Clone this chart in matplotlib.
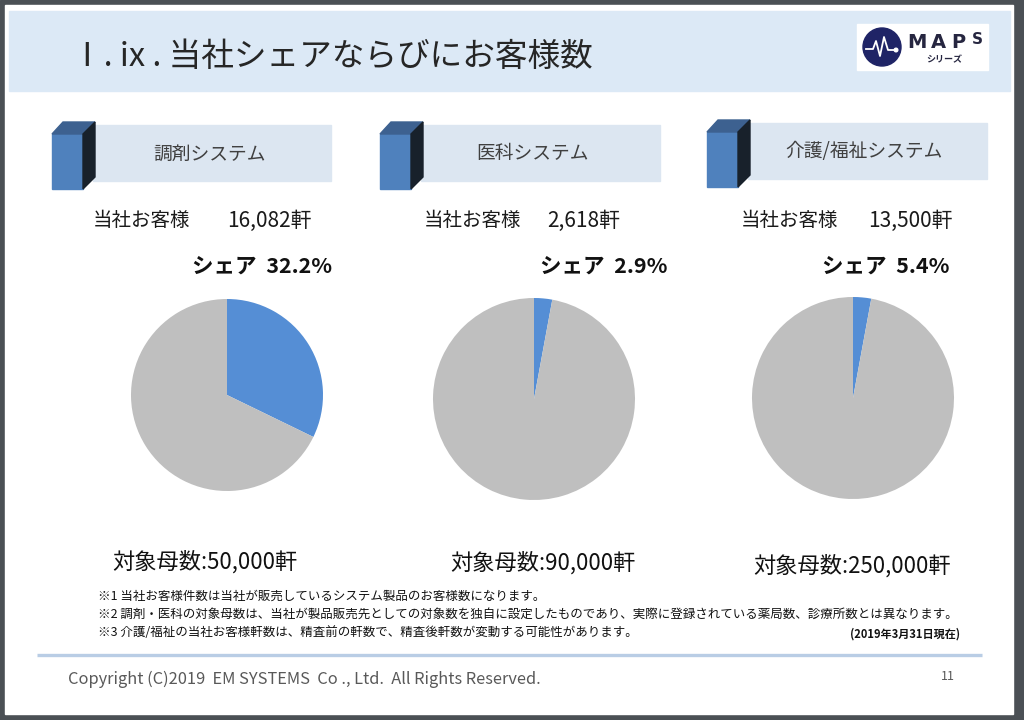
import matplotlib
matplotlib.use('Agg')
import matplotlib.pyplot as plt
from matplotlib.patches import Rectangle, Polygon, Circle

plt.rcParams['font.family'] = ['Noto Sans CJK JP', 'DejaVu Sans']

# data
systems = ['調剤システム', '医科システム', '介護/福祉システム']
customers = [16082, 2618, 13500]   # 当社お客様 (軒)
totals = [50000, 90000, 250000]    # 対象母数 (軒)
share_pct = [32.2, 2.9, 5.4]       # シェア label
pie_pct = [32.2, 2.9, 2.9]         # slice as drawn in the picture
notes = [
    '※1 当社お客様件数は当社が販売しているシステム製品のお客様数になります。',
    '※2 調剤・医科の対象母数は、当社が製品販売先としての対象数を独自に設定したものであり、実際に登録されている薬局数、診療所数とは異なります。',
    '※3 介護/福祉の当社お客様軒数は、精査前の軒数で、精査後軒数が変動する可能性があります。',
]
as_of = '(2019年3月31日現在)'

W, H = 1024, 720
fig = plt.figure(figsize=(W / 100, H / 100), dpi=100)
bg = fig.add_axes([0, 0, 1, 1])
bg.set_xlim(0, W)
bg.set_ylim(H, 0)
bg.axis('off')

# slide frame
bg.add_patch(Rectangle((0, 0), W, H, color='#4b5055', zorder=0))
bg.add_patch(Rectangle((5, 5), 1008, 709, color='white', zorder=1))
bg.add_patch(Rectangle((9, 11), 1001, 80, color='#dce9f6', zorder=2))

bg.text(71, 57, 'Ⅰ. ix . 当社シェアならびにお客様数', fontsize=23.5, color='#262626',
        va='center', ha='left', zorder=5)

# logo
bg.add_patch(Rectangle((857, 24), 131, 46, color='white', zorder=3))
bg.add_patch(Circle((882, 47), 19, color='#1f2466', zorder=4))
bg.plot([866, 873, 876, 880, 884, 888, 895], [49, 49, 41, 56, 37, 50, 50],
        color='white', lw=1.3, zorder=5)
bg.add_patch(Circle((896, 50), 1.8, color='white', zorder=5))
for ch, lx in zip('MAP', [917, 938, 958]):
    bg.text(lx, 43, ch, fontsize=14, fontweight='bold', color='#262640',
            va='center', ha='center', zorder=5, family='DejaVu Sans')
bg.text(977, 39, 'S', fontsize=11, fontweight='bold', color='#262640',
        va='center', ha='center', zorder=5, family='DejaVu Sans')
bg.text(944, 60, 'シリーズ', fontsize=6.5, fontstyle='italic', fontweight='bold',
        color='#262640', va='center', ha='center', zorder=5)

cube_x = [52, 380, 707]
box_y = [0, 0, -2]
label_right = [331, 660, 987]
label_cx = [210, 532, 864]
cust_x = [93, 424, 741]
num_x = [227, 547, 868]
share_x = [192, 540, 822]
total_x = [112, 450, 753]
total_y = [562, 563, 566]
pie_cx = [227, 534, 853]
pie_cy = [395, 399, 398]
pie_r = [96, 101, 101]

for i in range(3):
    x0 = cube_x[i]
    dy = box_y[i]
    # label box
    bg.add_patch(Rectangle((x0 + 41, 125 + dy), label_right[i] - x0 - 41, 56,
                           color='#dce6f1', zorder=3))
    # cube
    bg.add_patch(Polygon([(x0, 134 + dy), (x0 + 31, 134 + dy), (x0 + 31, 189 + dy), (x0, 189 + dy)],
                         closed=True, color='#4f81bd', zorder=4))
    bg.add_patch(Polygon([(x0, 134 + dy), (x0 + 11, 122 + dy), (x0 + 43, 122 + dy), (x0 + 31, 134 + dy)],
                         closed=True, color='#3d6190', zorder=4))
    bg.add_patch(Polygon([(x0 + 31, 134 + dy), (x0 + 43, 122 + dy), (x0 + 43, 177 + dy), (x0 + 31, 189 + dy)],
                         closed=True, color='#18212b', zorder=4))
    bg.text(label_cx[i], 154 + dy, systems[i], fontsize=13.5,
            color='#404040', ha='center', va='center', zorder=5)

    bg.text(cust_x[i], 221, '当社お客様', fontsize=14, color='#1a1a1a',
            ha='left', va='center', zorder=5)
    bg.text(num_x[i], 221, '{:,}軒'.format(customers[i]),
            fontsize=15, color='#1a1a1a', ha='left', va='center', zorder=5)
    bg.text(share_x[i], 266, 'シェア  {:.1f}%'.format(share_pct[i]), fontsize=15.5,
            fontweight='bold', color='#111111', ha='left', va='center', zorder=5)
    bg.text(total_x[i], total_y[i], '対象母数:{:,}軒'.format(totals[i]), fontsize=16,
            color='#111111', ha='left', va='center', zorder=5)

    r = pie_r[i]
    ax = fig.add_axes([(pie_cx[i] - r) / W, (H - pie_cy[i] - r) / H, 2 * r / W, 2 * r / H])
    ax.pie([pie_pct[i], 100 - pie_pct[i]], colors=['#558ed5', '#bfbfbf'],
           startangle=90, counterclock=False)
    ax.set_xlim(-1, 1)
    ax.set_ylim(-1, 1)
    ax.set_aspect('equal')
    ax.axis('off')

for j, note in enumerate(notes):
    bg.text(98, 596 + 18 * j, note, fontsize=9, color='#111111',
            ha='left', va='center', zorder=5)
bg.text(960, 634, as_of, fontsize=8, fontweight='bold', color='#111111',
        ha='right', va='center', zorder=5)

bg.plot([37, 982], [655, 655], color='#b9cde5', lw=2.4, zorder=5, solid_capstyle='butt')
bg.text(68, 679, 'Copyright (C)2019  EM SYSTEMS  Co ., Ltd.  All Rights Reserved.',
        fontsize=11.8, color='#595959', ha='left', va='center', zorder=5)
bg.text(955, 677, '11', fontsize=9, color='#595959', ha='right', va='center', zorder=5)

fig.savefig('out.png', dpi=100)
